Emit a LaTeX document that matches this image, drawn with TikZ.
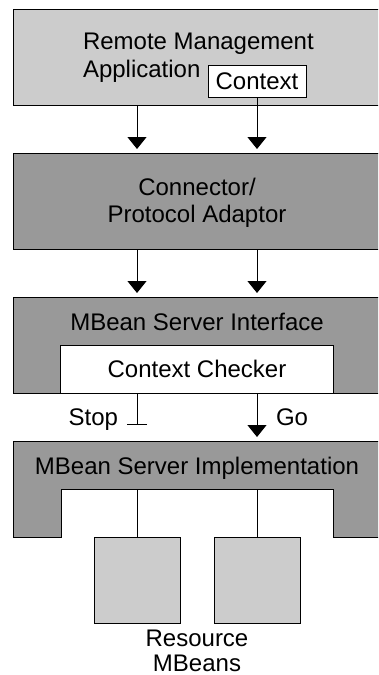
\documentclass[tikz,border=0pt]{standalone}
\usepackage{fontspec}
\setmainfont{Liberation Sans}
\usetikzlibrary{arrows.meta}
\definecolor{lightg}{HTML}{CCCCCC}
\definecolor{darkg}{HTML}{999999}
\tikzset{
  lbl/.style={font=\fontsize{24}{27}\selectfont, inner sep=0pt, outer sep=0pt, text=black},
  boxbase/.style={draw=black, line width=1pt, inner sep=0pt, outer sep=0pt, anchor=north west},
  lightbox/.style={boxbase, fill=lightg},
  darkbox/.style={boxbase, fill=darkg},
  whitebox/.style={boxbase, fill=white},
  arr/.style={line width=1pt, -{Triangle[width=19pt,length=12pt]}, shorten >=4pt},
  conn/.style={line width=1pt},
}
\begin{document}
\begin{tikzpicture}[x=1pt,y=-1pt]
\useasboundingbox (0,0) rectangle (378,675);
\clip (0,0) rectangle (378,675);
\coordinate (cl) at (137,0);
\coordinate (cr) at (257,0);
% Remote Management Application
\node[lightbox, minimum width=377pt, minimum height=96pt] (rma) at (13,9) {};
\node[lbl, anchor=base west] (rmat1) at (83,49.5) {Remote Management};
\node[lbl, anchor=base west] (rmat2) at (83,77) {Application};
\node[whitebox, minimum width=98pt, minimum height=32pt] (ctx) at (208,65) {};
\node[lbl, anchor=base] (ctxt) at (257,89) {Context};
% Connector / Protocol Adaptor
\node[darkbox, minimum width=377pt, minimum height=96pt] (cpa) at (13,153) {};
\node[lbl, anchor=base] (cpat1) at (197,195) {Connector/};
\node[lbl, anchor=base] (cpat2) at (197,222) {Protocol Adaptor};
% MBean Server Interface
\node[darkbox, minimum width=377pt, minimum height=96pt] (msi) at (13,297) {};
\node[lbl, anchor=base] (msit) at (197,330) {MBean Server Interface};
\node[whitebox, minimum width=273pt, minimum height=48pt] (cc) at (60,345) {};
\node[lbl, anchor=base] (cct) at (197,377) {Context Checker};
% MBean Server Implementation
\draw[line width=1pt, fill=darkg] (13,441) -- (390,441) -- (390,537) -- (333,537) -- (333,489)
  -- (61,489) -- (61,537) -- (13,537) -- cycle;
\coordinate (implTop) at (0,441);
\coordinate (notch) at (0,489);
\node[lbl, anchor=base] (msimpl) at (197,474) {MBean Server Implementation};
% Resource MBeans
\node[lightbox, minimum width=86pt, minimum height=86pt] (sqL) at (94,537) {};
\node[lightbox, minimum width=86pt, minimum height=86pt] (sqR) at (214,537) {};
\node[lbl, anchor=base] (rest1) at (197,646) {Resource};
\node[lbl, anchor=base] (rest2) at (197,671) {MBeans};
% Connectors
\draw[arr] (rma.south -| cl) -- (cpa.north -| cl);
\draw[arr] (ctx.south -| cr) -- (cpa.north -| cr);
\draw[arr] (cpa.south -| cl) -- (msi.north -| cl);
\draw[arr] (cpa.south -| cr) -- (msi.north -| cr);
\coordinate (stopEnd) at (137,425);
\draw[line width=1pt, -{Bar[width=20pt,line width=1pt]}] (cc.south -| cl) -- (stopEnd);
\node[lbl, anchor=base east] (stopt) at (118,425) {Stop};
\draw[arr] (cc.south -| cr) -- (implTop -| cr);
\node[lbl, anchor=base west] (got) at (276,425) {Go};
\draw[conn] (notch -| sqL) -- (sqL.north);
\draw[conn] (notch -| sqR) -- (sqR.north);
\end{tikzpicture}
\end{document}
